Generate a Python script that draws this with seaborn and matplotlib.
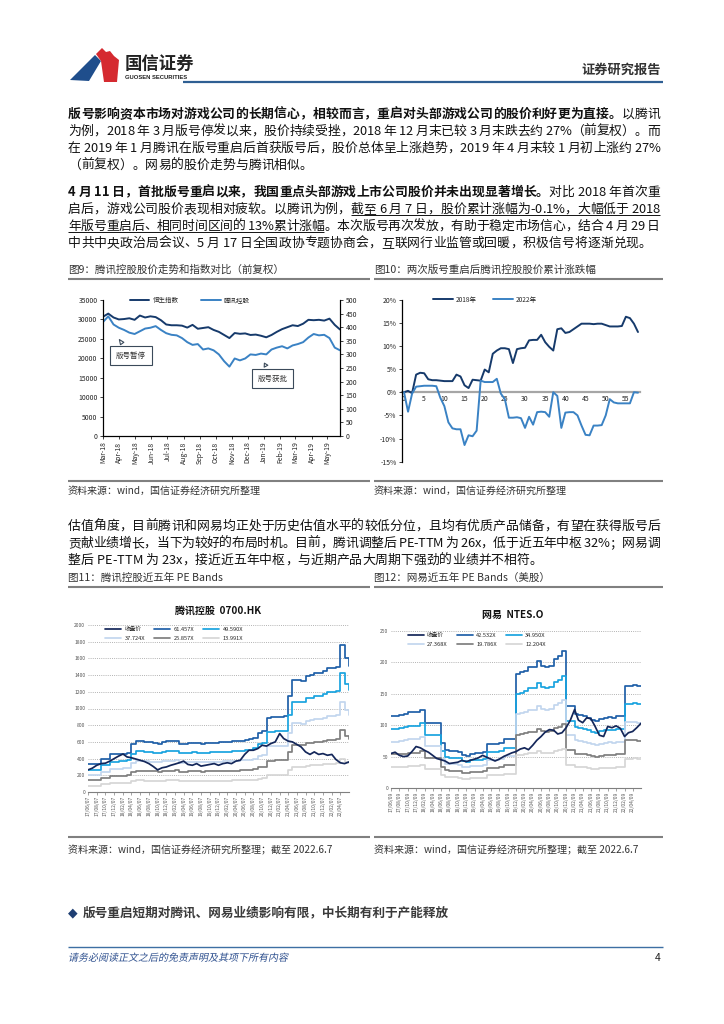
import numpy as np
import pandas as pd
import matplotlib
matplotlib.use('Agg')
import matplotlib.pyplot as plt
import matplotlib.dates as mdates
from matplotlib.patches import Polygon, PathPatch
from matplotlib.lines import Line2D
from matplotlib.font_manager import FontProperties
from matplotlib.textpath import TextPath
from matplotlib.transforms import Affine2D, IdentityTransform
from matplotlib.ticker import FuncFormatter
import seaborn as sns

# ---------------- data ----------------
# Fig 9: Hang Seng Index vs Tencent (10-day spacing from 2018-03-01)
fig9_start = '2018-03-01'
hsi_index = [30700, 31500, 30500, 30000, 30100, 30300, 29900, 31000, 30500, 30800,
             30600, 29800, 28700, 28500, 28500, 28400, 27900, 28600, 27600, 27800,
             28000, 27300, 26800, 26000, 25200, 26500, 26300, 26400, 26000, 26100,
             25800, 25400, 26000, 26800, 27500, 28000, 28500, 28300, 28900, 29900,
             29800, 29900, 29700, 30200, 28600, 27400]
tencent_px = [419, 440, 410, 398, 390, 380, 375, 385, 395, 398,
              404, 390, 378, 372, 370, 360, 345, 335, 338, 318,
              322, 315, 300, 275, 255, 285, 278, 285, 300, 298,
              303, 300, 318, 325, 330, 322, 333, 338, 345, 362,
              375, 370, 372, 360, 325, 315]
fig9_legend = ['恒生指数', '腾讯控股']

# Fig 10: cumulative return after licence restart (trading days 0..58)
ret_2018 = [0.0, 0.3, -0.2, 3.8, 4.2, 4.1, 2.8, 2.6, 2.6, 2.5,
            2.4, 2.4, 2.4, 3.8, 3.4, 1.5, 0.9, 2.7, 2.6, 2.5,
            4.9, 4.3, 8.3, 9.0, 9.5, 9.5, 9.3, 6.3, 9.3, 9.5,
            9.6, 11.2, 11.3, 11.3, 12.4, 10.8, 9.8, 9.0, 13.6, 13.8,
            12.8, 13.0, 13.6, 14.2, 14.8, 14.8, 14.8, 14.7, 14.8, 14.8,
            14.5, 14.2, 14.2, 14.2, 14.3, 16.3, 16.0, 14.8, 13.0]
ret_2022 = [0.0, -4.2, -0.3, 1.2, 1.3, 1.4, 1.4, 1.4, 1.3, -1.2,
            -3.0, -6.5, -7.8, -8.0, -8.0, -11.4, -9.3, -9.5, -8.3, 2.5,
            2.2, 2.2, 2.2, 2.9, -0.3, -1.5, -5.5, -5.5, -5.4, -5.6,
            -7.7, -5.3, -7.0, -4.3, -4.2, -4.3, -5.3, 0.0, -0.8, -7.7,
            -4.4, -4.3, -4.3, -5.0, -7.2, -9.2, -9.3, -7.2, -7.2, -7.1,
            -5.0, -1.5, -2.2, -2.4, -2.4, -2.4, -2.4, 0.0, -0.1]
fig10_series = ['2018年', '2022年']

# Fig 11: Tencent PE bands (monthly from 2017-06-07)
tc_start = '2017-06-07'
tc_close = [265, 285, 320, 340, 345, 370, 400, 430, 455, 420,
            410, 395, 380, 365, 340, 305, 265, 290, 300, 320,
            335, 350, 370, 330, 320, 340, 310, 320, 330, 340,
            320, 340, 350, 340, 370, 380, 450, 500, 500, 520,
            560, 550, 580, 600, 700, 640, 610, 600, 570, 540,
            480, 450, 480, 450, 460, 440, 450, 390, 350, 340,
            360]
tc_band_top = [330, 330, 330, 395, 395, 450, 450, 455, 460, 470,
               570, 610, 610, 600, 595, 585, 580, 600, 605, 610,
               615, 575, 580, 585, 590, 585, 580, 585, 590, 590,
               595, 600, 600, 605, 610, 615, 620, 630, 650, 710,
               725, 890, 895, 900, 900, 905, 1150, 1340, 1340, 1330,
               1390, 1400, 1420, 1430, 1450, 1480, 1490, 1500, 1760, 1600,
               1510]
tc_multiples = [61.457, 49.590, 37.724, 25.857, 13.991]

# Fig 12: NetEase PE bands (monthly from 2017-06-09)
nt_start = '2017-06-09'
nt_close = [55, 57, 52, 50, 51, 58, 66, 64, 60, 57,
            52, 47, 45, 43, 39, 40, 41, 44, 42, 44,
            46, 48, 52, 49, 46, 43, 46, 50, 53, 56,
            58, 62, 64, 61, 68, 76, 82, 89, 93, 92,
            86, 88, 96, 108, 125, 108, 104, 112, 110, 98,
            84, 82, 98, 96, 99, 95, 82, 88, 90, 96,
            103]
nt_band_top = [115, 115, 116, 118, 121, 121, 121, 125, 103, 103,
               103, 103, 72, 60, 59, 59, 58, 52, 51, 54,
               55, 55, 57, 70, 70, 70, 71, 78, 78, 78,
               182, 185, 187, 193, 193, 203, 195, 193, 195, 205,
               210, 218, 130, 130, 118, 116, 115, 112, 108, 107,
               110, 112, 113, 112, 115, 115, 163, 163, 164, 162,
               162]
nt_multiples = [42.532, 34.950, 27.368, 19.786, 12.204]

# ---------------- style ----------------
sns.set_theme(style='white')
FAM = ['Noto Sans CJK SC', 'DejaVu Sans']
plt.rcParams['font.family'] = FAM
plt.rcParams['axes.unicode_minus'] = False

NAVY = '#163a6b'
BLUE = '#3a82c4'
BAND_COLORS = ['#1f5fa8', '#19a3df', '#c2d6ee', '#7f7f7f', '#d6d6d6']
CLOSE_C = '#14275a'
TXT = '#111111'

W, H = 724, 1024
fig = plt.figure(figsize=(7.24, 10.24), dpi=100)
fig.patch.set_facecolor('white')
renderer = fig.canvas.get_renderer()


def fx(x):
    return x / W


def fy(y):
    return 1 - y / H


def hline(x0, x1, y, color, lw):
    fig.add_artist(Line2D([fx(x0), fx(x1)], [fy(y), fy(y)], transform=fig.transFigure,
                          color=color, lw=lw, solid_capstyle='butt'))


_cache = {}


def adv(ch, size, weight):
    key = (ch, size, weight)
    if key not in _cache:
        fp = FontProperties(family=FAM, size=size, weight=weight)
        w1, _, _ = renderer.get_text_width_height_descent('.' + ch + '.', fp, ismath=False)
        w0, _, _ = renderer.get_text_width_height_descent('..', fp, ismath=False)
        _cache[key] = w1 - w0
    return _cache[key]


BODY = 9.25


def draw_line(y, segs, justify=True, size=BODY, x0=68, x1=660, color=TXT):
    items = []
    for text, bold, ul in segs:
        w = 'bold' if bold else 'normal'
        for ch in text:
            items.append((ch, w, ul, adv(ch, size, w)))
    nat = sum(i[3] for i in items)
    n = len(items)
    extra = (x1 - x0 - nat) / (n - 1) if (justify and n > 1) else 0.0
    base = y + 0.37 * size / 0.72
    x = x0
    ul_s, ul_e = None, None
    for ch, w, ul, a in items:
        if ch != ' ':
            fig.text(fx(x), fy(base), ch, fontsize=size, fontweight=w, color=color,
                     ha='left', va='baseline')
        if ul:
            if ul_s is None:
                ul_s = x
            ul_e = x + a
        x += a + extra
    if ul_s is not None:
        hline(ul_s, ul_e, base + 2.3, color, 0.7)


# ---------------- header ----------------
blue_poly = [(70, 80), (95, 55), (101, 61), (89, 81)]
red_poly = [(96, 54), (102, 48), (106, 52), (110, 51), (114, 56), (119, 60), (117, 82), (104, 82), (101, 61)]
fig.add_artist(Polygon([(fx(a), fy(b)) for a, b in blue_poly], closed=True, transform=fig.transFigure,
                       fc='#1f4e8c', ec='none'))
fig.add_artist(Polygon([(fx(a), fy(b)) for a, b in red_poly], closed=True, transform=fig.transFigure,
                       fc='#d52a30', ec='none'))
fig.text(fx(125), fy(64), '国信证券', fontsize=12.5, fontweight='bold', color='#222222', ha='left', va='center')
fig.text(fx(125), fy(77.5), 'GUOSEN SECURITIES', fontsize=4.2, fontweight='bold', color='#222222',
         ha='left', va='center', family='Liberation Sans')
fig.text(fx(661), fy(70), '证券研究报告', fontsize=9.5, fontweight='bold', color='#333333', ha='right', va='center')
hline(183, 663, 82, '#2f5f93', 1.6)

# ---------------- paragraphs ----------------
LH = 17
p1 = [
    [("版号影响资本市场对游戏公司的长期信心，相较而言，重启对头部游戏公司的股价利好更为直接。", True, False), ("以腾讯", False, False)],
    [("为例，2018 年 3 月版号停发以来，股价持续受挫，2018 年 12 月末已较 3 月末跌去约 27%（前复权）。而", False, False)],
    [("在 2019 年 1 月腾讯在版号重启后首获版号后，股价总体呈上涨趋势，2019 年 4 月末较 1 月初上涨约 27%", False, False)],
    [("（前复权）。网易的股价走势与腾讯相似。", False, False)],
]
p2 = [
    [("4 月 11 日，首批版号重启以来，我国重点头部游戏上市公司股价并未出现显著增长。", True, False), ("对比 2018 年首次重", False, False)],
    [("启后，游戏公司股价表现相对疲软。以腾讯为例，", False, False), ("截至 6 月 7 日，股价累计涨幅为-0.1%，大幅低于 2018", False, True)],
    [("年版号重启后、相同时间区间的 13%累计涨幅", False, True), ("。本次版号再次发放，有助于稳定市场信心，结合 4 月 29 日", False, False)],
    [("中共中央政治局会议、5 月 17 日全国政协专题协商会，互联网行业监管或回暖，积极信号将逐渐兑现。", False, False)],
]
p3 = [
    [("估值角度，目前腾讯和网易均正处于历史估值水平的较低分位，且均有优质产品储备，有望在获得版号后", False, False)],
    [("贡献业绩增长，当下为较好的布局时机。目前，腾讯调整后 PE-TTM 为 26x，低于近五年中枢 32%；网易调", False, False)],
    [("整后 PE-TTM 为 23x，接近近五年中枢，与近期产品大周期下强劲的业绩并不相符。", False, False)],
]
for para, y0 in ((p1, 113), (p2, 191), (p3, 525)):
    for i, segs in enumerate(para):
        draw_line(y0 + i * LH, segs, justify=(i < len(para) - 1))

# ---------------- figure captions ----------------
CAP = 7.6
fig.text(fx(68), fy(270), '图9：腾讯控股股价走势和指数对比（前复权）', fontsize=CAP, color='#333333', va='center')
fig.text(fx(374), fy(270), '图10：两次版号重启后腾讯控股股价累计涨跌幅', fontsize=CAP, color='#333333', va='center')
hline(68, 370, 279, '#808080', 1.5)
hline(374, 663, 279, '#808080', 1.5)
hline(68, 370, 481, '#808080', 1.5)
hline(374, 663, 481, '#808080', 1.5)
fig.text(fx(68), fy(491), '资料来源：wind，国信证券经济研究所整理', fontsize=7.2, color='#333333', va='center')
fig.text(fx(374), fy(491), '资料来源：wind，国信证券经济研究所整理', fontsize=7.2, color='#333333', va='center')

fig.text(fx(68), fy(578), '图11：腾讯控股近五年 PE Bands', fontsize=CAP, color='#333333', va='center')
fig.text(fx(374), fy(578), '图12：网易近五年 PE Bands（美股）', fontsize=CAP, color='#333333', va='center')
hline(68, 370, 587, '#808080', 1.5)
hline(374, 663, 587, '#808080', 1.5)
hline(68, 370, 837, '#808080', 1.5)
hline(374, 663, 837, '#808080', 1.5)
fig.text(fx(68), fy(850), '资料来源：wind，国信证券经济研究所整理；截至 2022.6.7', fontsize=7.2, color='#333333', va='center')
fig.text(fx(374), fy(850), '资料来源：wind，国信证券经济研究所整理；截至 2022.6.7', fontsize=7.2, color='#333333', va='center')

# ---------------- Fig 9 ----------------
dates9 = pd.date_range(fig9_start, periods=len(hsi_index), freq='10D')
df9 = pd.DataFrame({'date': dates9, 'hsi': hsi_index, 'tc': tencent_px})
ax9 = fig.add_axes([fx(103), fy(436), (340 - 103) / W, (436 - 300) / H])
sns.lineplot(data=df9, x='date', y='hsi', ax=ax9, color=NAVY, lw=1.4, estimator=None, label=fig9_legend[0])
ax9b = ax9.twinx()
sns.lineplot(data=df9, x='date', y='tc', ax=ax9b, color=BLUE, lw=1.4, estimator=None, label=fig9_legend[1])
ax9.set_xlim(dates9[0], dates9[-1])
ax9.set_ylim(0, 35000)
ax9.set_yticks(range(0, 35001, 5000))
ax9b.set_ylim(0, 500)
ax9b.set_yticks(range(0, 501, 50))
ax9.xaxis.set_major_locator(mdates.MonthLocator())
ax9.xaxis.set_major_formatter(mdates.DateFormatter('%b-%y'))
for a in (ax9, ax9b):
    a.set_xlabel('')
    a.set_ylabel('')
    a.set_facecolor('none')
    for s in a.spines.values():
        s.set_color('#000000')
        s.set_linewidth(0.8)
    a.spines['top'].set_visible(False)
ax9.tick_params(axis='x', bottom=True, length=2.5, width=0.6, labelsize=4.9, rotation=90, pad=1.5, colors='#222222')
ax9.tick_params(axis='y', left=True, length=2.5, width=0.6, labelsize=4.9, pad=1.5, colors='#222222')
ax9b.tick_params(axis='y', right=True, length=2.5, width=0.6, labelsize=4.9, pad=1.5, colors='#222222')
for lg in (ax9.get_legend(), ax9b.get_legend()):
    if lg is not None:
        lg.remove()
h9 = [ax9.get_lines()[0], ax9b.get_lines()[0]]
ax9.legend(h9, fig9_legend, loc='center', bbox_to_anchor=((190 - 103) / 237, 1.0), ncol=2, frameon=False,
           fontsize=4.7, handlelength=3.0, handletextpad=0.5, columnspacing=3.5, borderaxespad=0)
box_kw = dict(boxstyle='square,pad=0.75', fc='white', ec='#3b4a5a', lw=0.8)
arr_kw = dict(arrowstyle='wedge,tail_width=0.55,shrink_factor=0.5', fc='white', ec='#3b4a5a', lw=0.8)
ax9.annotate('版号暂停', xy=(mdates.date2num(pd.Timestamp('2018-03-29')), 25400),
             xytext=(mdates.date2num(pd.Timestamp('2018-04-23')), 20640), ha='center', va='center',
             fontsize=5.4, color='#333333', bbox=box_kw, arrowprops=arr_kw, zorder=5)
ax9.annotate('版号获批', xy=(mdates.date2num(pd.Timestamp('2018-12-30')), 19380),
             xytext=(mdates.date2num(pd.Timestamp('2019-01-17')), 14750), ha='center', va='center',
             fontsize=5.4, color='#333333', bbox=box_kw, arrowprops=arr_kw, zorder=5)

# ---------------- Fig 10 ----------------
days = list(range(len(ret_2018)))
df10 = pd.DataFrame({'day': days * 2, 'ret': ret_2018 + ret_2022,
                     'series': [fig10_series[0]] * len(ret_2018) + [fig10_series[1]] * len(ret_2022)})
ax10 = fig.add_axes([fx(402), fy(461.7), (640 - 402) / W, (461.7 - 299.6) / H])
sns.lineplot(data=df10, x='day', y='ret', hue='series', hue_order=fig10_series, palette=[NAVY, BLUE],
             ax=ax10, lw=1.4, estimator=None)
ax10.set_xlim(-0.5, 58.5)
ax10.set_ylim(-15, 20)
ax10.set_yticks(range(-15, 21, 5))
ax10.yaxis.set_major_formatter(FuncFormatter(lambda v, p: f'{int(v)}%'))
ax10.set_xticks(range(0, 56, 5))
ax10.set_xlabel('')
ax10.set_ylabel('')
ax10.set_facecolor('none')
for s in ('top', 'right'):
    ax10.spines[s].set_visible(False)
ax10.spines['left'].set_color('#000000')
ax10.spines['left'].set_linewidth(0.9)
ax10.spines['bottom'].set_position(('data', 0))
ax10.spines['bottom'].set_color('#a6a6a6')
ax10.spines['bottom'].set_linewidth(1.6)
ax10.spines['bottom'].set_zorder(0.5)
ax10.tick_params(axis='y', left=True, length=2.5, width=0.6, labelsize=4.9, pad=1.5, colors='#222222')
ax10.tick_params(axis='x', bottom=False, length=0, labelsize=4.9, pad=2, colors='#222222')
h10, l10 = ax10.get_legend_handles_labels()
ax10.legend(h10, l10, loc='center', bbox_to_anchor=((485 - 402) / 238, 1.0), ncol=2, frameon=False,
            fontsize=4.7, handlelength=3.0, handletextpad=0.5, columnspacing=2.5, borderaxespad=0)


# ---------------- Fig 11 / 12 ----------------
def pe_chart(ax, start, close, band_top, multiples, ymax, ystep, day_fmt, title, title_xy):
    dates = [pd.Timestamp(start) + pd.DateOffset(months=i) for i in range(len(close))]
    for m, c in zip(multiples, BAND_COLORS):
        band = np.array(band_top) * m / multiples[0]
        sns.lineplot(x=dates, y=band, ax=ax, color=c, lw=1.25, estimator=None,
                     drawstyle='steps-post', label=f'{m:.3f}X')
    sns.lineplot(x=dates, y=close, ax=ax, color=CLOSE_C, lw=1.25, estimator=None, label='收盘价')
    ax.set_xlim(dates[0], dates[-1])
    ax.set_ylim(0, ymax)
    ax.set_yticks(np.arange(0, ymax + 1, ystep))
    ax.yaxis.grid(True, ls=(0, (1.2, 1.6)), color='#9a9a9a', lw=0.55)
    ax.set_axisbelow(True)
    ticks = [pd.Timestamp(start) + pd.DateOffset(months=2 * i) for i in range(30)]
    ax.set_xticks([mdates.date2num(t) for t in ticks])
    ax.set_xticklabels([t.strftime('%y/%m/') + day_fmt for t in ticks], rotation=90)
    ax.set_xlabel('')
    ax.set_ylabel('')
    ax.set_facecolor('none')
    for s in ('top', 'right', 'left'):
        ax.spines[s].set_visible(False)
    ax.spines['bottom'].set_color('#7f7f7f')
    ax.spines['bottom'].set_linewidth(0.8)
    ax.tick_params(axis='x', bottom=True, length=2, width=0.5, color='#7f7f7f', labelsize=3.5, pad=1,
                   labelcolor='#555555')
    ax.tick_params(axis='y', left=False, length=0, labelsize=3.6, pad=2, labelcolor='#555555')
    h, l = ax.get_legend_handles_labels()
    order = [5, 2, 0, 3, 1, 4]
    ax.legend([h[i] for i in order], [l[i] for i in order], loc='upper left', bbox_to_anchor=(0.06, 1.0),
              ncol=3, frameon=False, fontsize=4.1, handlelength=2.8, handletextpad=0.6, columnspacing=1.6,
              labelspacing=0.75, borderaxespad=0.1, borderpad=0.2)
    fig.text(fx(title_xy[0]), fy(title_xy[1]), title, fontsize=7.2, fontweight='bold', color='#111111',
             ha='center', va='center')


ax11 = fig.add_axes([fx(88), fy(792), (349 - 88) / W, (792 - 625) / H])
pe_chart(ax11, tc_start, tc_close, tc_band_top, tc_multiples, 2000, 200, '07', '腾讯控股  0700.HK', (218, 611))
ax12 = fig.add_axes([fx(391), fy(788), (641 - 391) / W, (788 - 631) / H])
pe_chart(ax12, nt_start, nt_close, nt_band_top, nt_multiples, 250, 50, '09', '网易  NTES.O', (513, 615))

# ---------------- bottom ----------------
fig.text(fx(68), fy(913), '◆', fontsize=9, color='#1f3f73', ha='left', va='center', family=['DejaVu Sans'])
fig.text(fx(83), fy(913), '版号重启短期对腾讯、网易业绩影响有限，中长期有利于产能释放', fontsize=9.1,
         fontweight='bold', color='#3a3a3a', ha='left', va='center')
hline(68, 663, 947, '#3d6fa3', 1.0)
tp = TextPath((0, 0), '请务必阅读正文之后的免责声明及其项下所有内容', size=10,
              prop=FontProperties(family='Noto Sans CJK SC'))
tr = Affine2D().skew_deg(12, 0).translate(68, H - 961) + IdentityTransform()
fig.add_artist(PathPatch(tp, transform=tr, fc='#2d4f8e', ec='none'))
fig.text(fx(661), fy(958), '4', fontsize=7.5, color='#222222', ha='right', va='center')

fig.savefig('out.png', dpi=100, facecolor='white')
